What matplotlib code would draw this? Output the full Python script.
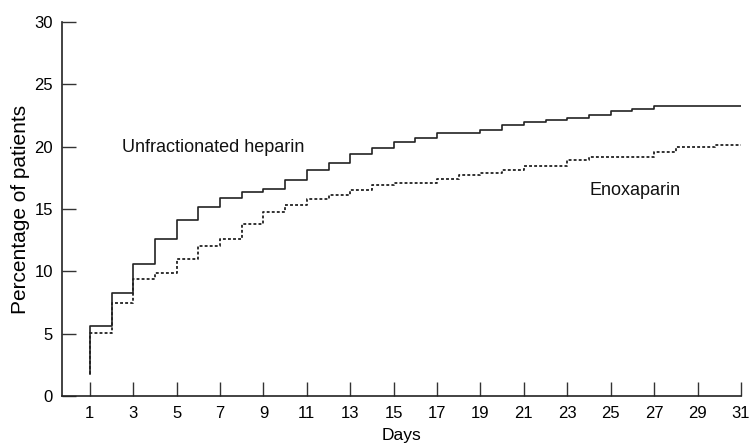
import matplotlib
matplotlib.use("Agg")
import matplotlib.pyplot as plt

# cumulative percentage of patients, step changes
ufh_days = [1, 1, 2, 3, 4, 5, 6, 7, 8, 9, 10, 11, 12, 13, 14, 15, 16, 17,
            19, 20, 21, 22, 23, 24, 25, 26, 27, 31]
ufh_pct = [1.76, 5.6, 8.3, 10.6, 12.6, 14.1, 15.2, 15.9, 16.35, 16.6, 17.3,
           18.1, 18.7, 19.4, 19.9, 20.4, 20.7, 21.07, 21.35, 21.76, 21.95,
           22.16, 22.3, 22.56, 22.9, 23.04, 23.28, 23.28]

enox_days = [1, 1, 2, 3, 4, 5, 6, 7, 8, 9, 10, 11, 12, 13, 14, 15, 17, 18,
             19, 20, 21, 23, 24, 27, 28, 29.8, 31]
enox_pct = [1.76, 5.06, 7.5, 9.36, 9.9, 11.0, 12.0, 12.56, 13.8, 14.75, 15.3,
            15.84, 16.1, 16.5, 16.94, 17.1, 17.44, 17.7, 17.9, 18.16, 18.48,
            18.93, 19.17, 19.6, 19.95, 20.13, 20.13]

day_ticks = list(range(1, 32, 2))
pct_ticks = [0, 5, 10, 15, 20, 25, 30]

plt.rcParams['font.family'] = ['Liberation Sans', 'DejaVu Sans']

fig = plt.figure(figsize=(7.51, 4.45), dpi=100)
ax = fig.add_axes([0.0826, 0.110, 0.904, 0.8404])

ax.plot(ufh_days, ufh_pct, drawstyle='steps-post', color='#222222', lw=1.2)
ax.plot(enox_days, enox_pct, drawstyle='steps-post', color='#222222', lw=1.3,
        linestyle=(0, (1.6, 1.2)))

ax.text(2.47, 19.9, 'Unfractionated heparin', fontsize=13, va='center',
        ha='left', color='#111111')
ax.text(24.0, 16.5, 'Enoxaparin', fontsize=13, va='center', ha='left',
        color='#111111')

ax.set_xlim(-0.28, 31)
ax.set_ylim(0, 30)
ax.set_xticks(day_ticks)
ax.set_yticks(pct_ticks)
ax.tick_params(direction='in', length=10, width=1.0, labelsize=12,
               color='#333333')
ax.tick_params(axis='y', pad=6.5)
ax.tick_params(axis='x', pad=7)

for side in ['top', 'right']:
    ax.spines[side].set_visible(False)
for side in ['left', 'bottom']:
    ax.spines[side].set_linewidth(1.2)
    ax.spines[side].set_color('#222222')

ax.set_xlabel('Days', fontsize=12.5, labelpad=5)
ax.set_ylabel('Percentage of patients', fontsize=15, labelpad=3)

fig.savefig('out.png', dpi=100)
